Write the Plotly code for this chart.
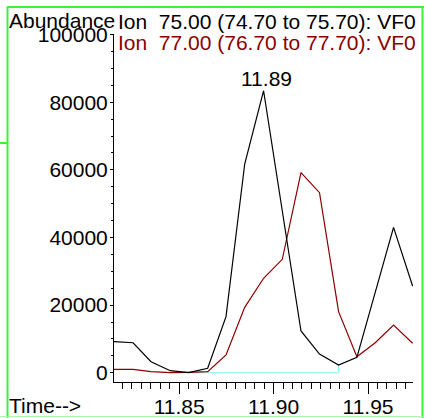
import plotly.graph_objects as go
import numpy as np

# retention time (min) of each scan
times = [11.8155, 11.8256, 11.8351, 11.8453, 11.8550, 11.8651, 11.8748, 11.8847, 11.8947,
         11.9046, 11.9145, 11.9243, 11.9344, 11.9441, 11.9538, 11.9635, 11.9736]
# ion 75 abundance
ion75 = [9170, 8870, 3250, 590, 0, 1300, 16570, 61730, 83420,
         48120, 12340, 5530, 2280, 4560, 23870, 43010, 25650]
# ion 77 abundance
ion77 = [1000, 1000, 300, 0, 100, 300, 5240, 19350, 27930,
         33550, 59170, 53250, 18050, 4730, 8880, 14110, 8700]

label75 = "Ion  75.00 (74.70 to 75.70): VF0"
label77 = "Ion  77.00 (76.70 to 77.70): VF0"
peak_label = "11.89"
y_ticks = [0, 20000, 40000, 60000, 80000, 100000]
x_ticks = [11.85, 11.90, 11.95]

FONT = "Liberation Sans, Arial, sans-serif"
FS = 21
W, H = 425, 418
L, R, T, B = 114, 12, 34, 36

def px(x):
    return (x - L) / (W - L - R)

def py(y):
    return (H - B - y) / (H - T - B)

fig = go.Figure()

# integration baseline (cyan)
i0, i1 = 4, 12
fig.add_trace(go.Scatter(x=[times[i0], times[i1], times[i1]], y=[0, 0, ion75[i1]],
                         mode="lines", line=dict(color="#7ff5f5", width=1)))

fig.add_trace(go.Scatter(x=times, y=ion77, mode="lines",
                         line=dict(color="#8b0000", width=1.2)))
fig.add_trace(go.Scatter(x=times, y=ion75, mode="lines",
                         line=dict(color="black", width=1.2)))

pk = int(np.argmax(ion75))
fig.add_annotation(x=times[pk], y=ion75[pk], text=peak_label, showarrow=False,
                   yanchor="bottom", xshift=3, yshift=-1,
                   font=dict(size=FS, color="black", family=FONT))

# header texts
fig.add_annotation(x=px(7), y=py(34), xref="paper", yref="paper", text="Abundance",
                   showarrow=False, xanchor="left", yanchor="bottom",
                   font=dict(size=FS, color="black", family=FONT))
fig.add_annotation(x=px(116), y=py(35), xref="paper", yref="paper", text=label75,
                   showarrow=False, xanchor="left", yanchor="bottom",
                   font=dict(size=FS, color="black", family=FONT))
fig.add_annotation(x=px(116), y=py(56), xref="paper", yref="paper", text=label77,
                   showarrow=False, xanchor="left", yanchor="bottom",
                   font=dict(size=FS, color="#8b0000", family=FONT))
fig.add_annotation(x=px(7), y=py(406), xref="paper", yref="paper", text="Time-->",
                   showarrow=False, xanchor="left", yanchor="middle",
                   font=dict(size=FS, color="black", family=FONT))

# green frame
green = "#3cf03c"
shapes = [
    dict(x0=px(7.5), x1=px(7.5), y0=py(7), y1=py(418), width=2, color=green),
    dict(x0=px(7), x1=px(424), y0=py(7), y1=py(7), width=2, color=green),
    dict(x0=px(422.5), x1=px(422.5), y0=py(7), y1=py(418), width=2, color=green),
    dict(x0=px(0), x1=px(424), y0=py(416.5), y1=py(416.5), width=1, color="#a8f8a8"),
    dict(x0=px(0), x1=px(7), y0=py(143), y1=py(143), width=2, color=green),
]
for s in shapes:
    fig.add_shape(type="line", xref="paper", yref="paper",
                  x0=s["x0"], x1=s["x1"], y0=s["y0"], y1=s["y1"],
                  line=dict(color=s["color"], width=s["width"]))

fig.update_layout(
    width=W, height=H,
    margin=dict(l=L, r=R, t=T, b=B, pad=0),
    paper_bgcolor="white", plot_bgcolor="white",
    showlegend=False,
    font=dict(family=FONT, size=FS, color="black"),
    xaxis=dict(range=[11.8155, 11.9738], tickvals=x_ticks, tickformat=".2f",
               automargin=False,
               showgrid=False, zeroline=False, showline=True, linecolor="black",
               linewidth=1, ticks="outside", ticklen=11, tickcolor="black",
               tickfont=dict(size=FS), ticklabelstandoff=-5,
               minor=dict(dtick=0.005, tick0=11.85, ticks="outside", ticklen=6,
                          tickcolor="black", showgrid=False)),
    yaxis=dict(range=[-2750, 100200], tickvals=y_ticks, tickformat="d",
               automargin=False,
               showgrid=False, zeroline=False, showline=True, linecolor="black",
               linewidth=1, ticks="outside", ticklen=3, tickcolor="black",
               tickfont=dict(size=FS), ticklabelstandoff=-2,
               minor=dict(dtick=5000, tick0=0, ticks="outside", ticklen=2,
                          tickcolor="black", showgrid=False)),
)

# page body has a default 8px margin; drop it so the figure fills the window
fig.write_html("out.html", config={"displayModeBar": False},
               post_script="document.body.style.margin='0';")
